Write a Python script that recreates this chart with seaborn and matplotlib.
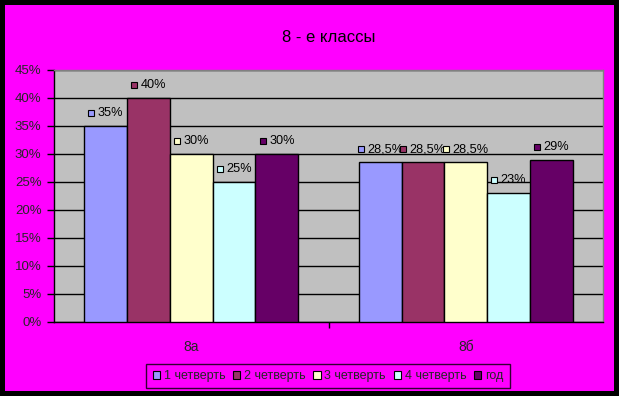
import pandas as pd
import matplotlib.pyplot as plt
import matplotlib.patches as mpatches
import matplotlib.transforms as mtransforms
import seaborn as sns

# Data
classes = ['8а', '8б']
quarters = ['1 четверть', '2 четверть', '3 четверть', '4 четверть', 'год']
values_8a = [35, 40, 30, 25, 30]
values_8b = [28.5, 28.5, 28.5, 23, 29]
colors = ['#9999FF', '#993366', '#FFFFCC', '#CCFFFF', '#660066']
yticks = [0, 5, 10, 15, 20, 25, 30, 35, 40, 45]

rows = []
for cls, vals in zip(classes, [values_8a, values_8b]):
    for q, v in zip(quarters, vals):
        rows.append({'class': cls, 'quarter': q, 'value': v})
df = pd.DataFrame(rows)

sns.set_style("white")
plt.rcParams['font.family'] = ['Liberation Sans', 'DejaVu Sans']

fig = plt.figure(figsize=(6.19, 3.96), dpi=100)
fig.patch.set_facecolor('black')
# magenta chart area inside the black frame
fig.patches.append(mpatches.Rectangle((5 / 619, 5 / 396), 609 / 619, 386 / 396,
                                      transform=fig.transFigure, facecolor='#FF00FF',
                                      edgecolor='none', zorder=-10))

ax = fig.add_axes([54 / 619, 1 - 322 / 396, 549 / 619, 252 / 396])
ax.set_facecolor('#C0C0C0')

sns.barplot(data=df, x='class', y='value', hue='quarter', palette=colors,
            width=0.78, edgecolor='black', linewidth=1, saturation=1, ax=ax,
            legend=True, zorder=3)

ax.set_xlim(-0.5, 1.5)
ax.set_ylim(0, 45)
ax.set_yticks(yticks)
ax.set_yticklabels([f'{t}%' for t in yticks], fontsize=9.5)
ax.yaxis.grid(True, color='black', linewidth=1, zorder=1)
ax.set_axisbelow(True)
ax.set_xlabel('')
ax.set_ylabel('')

ax.tick_params(axis='y', direction='out', length=5, width=1, color='black', pad=4, left=True)
ax.tick_params(axis='x', which='major', length=0, pad=13, labelsize=10)
ax.set_xticks([0.5], minor=True)
ax.tick_params(axis='x', which='minor', direction='out', length=4, width=1, color='black', bottom=True)

for side in ['left', 'bottom']:
    ax.spines[side].set_color('black')
    ax.spines[side].set_linewidth(1)
for side in ['top', 'right']:
    ax.spines[side].set_color('#808080')
    ax.spines[side].set_linewidth(1)

# Data labels with colour key squares
fig.canvas.draw()
renderer = fig.canvas.get_renderer()
for container, color in zip(ax.containers, colors):
    for bar in container:
        h = bar.get_height()
        cx = bar.get_x() + bar.get_width() / 2
        label = f'{h:g}%'.replace('.', ',')
        t = ax.annotate(label, (cx, h), xytext=(0, 13), textcoords='offset pixels',
                        ha='left', va='center', fontsize=9.2, color='black', zorder=5)
        w = t.get_window_extent(renderer).width
        total = 10 + w
        t.set_position((-total / 2 + 10, 13))
        shift = mtransforms.ScaledTranslation((-total / 2 + 3.5) / 100, 13 / 100,
                                              fig.dpi_scale_trans)
        ax.plot([cx], [h], marker='s', markersize=5, markerfacecolor=color,
                markeredgecolor='black', markeredgewidth=0.8, zorder=5,
                transform=ax.transData + shift, clip_on=False)

ax.set_title('8 - е классы', fontsize=12, color='black', pad=0,
             y=1 + 33 / 252, va='center')

leg = ax.legend(loc='center', bbox_to_anchor=(328 / 619, 1 - 376 / 396),
                bbox_transform=fig.transFigure, ncol=5, fontsize=9, frameon=True,
                handlelength=0.6, handleheight=0.6, handletextpad=0.3,
                columnspacing=0.6, borderpad=0.5, borderaxespad=0, fancybox=False)
leg.get_frame().set_facecolor('#FF00FF')
leg.get_frame().set_edgecolor('black')
leg.get_frame().set_linewidth(1)
for patch in leg.get_patches():
    patch.set_edgecolor('black')
    patch.set_linewidth(0.8)

plt.savefig('out.png', dpi=100, facecolor=fig.get_facecolor())
plt.close()
